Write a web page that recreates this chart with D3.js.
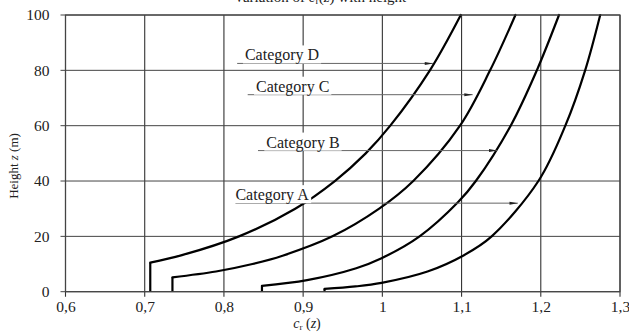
<!DOCTYPE html>
<html>
<head>
<meta charset="utf-8">
<script src="https://cdn.jsdelivr.net/npm/d3@7"></script>
<style>
  html, body { margin: 0; padding: 0; background: #fff; }
  svg { display: block; }
  svg text { font-family: "Liberation Serif", "Times New Roman", "DejaVu Serif", serif; }
</style>
</head>
<body>
<div id="chart"></div>
<script>
// roughness factor c_r(z) against height, four terrain categories

const categories = ["Category A", "Category B", "Category C", "Category D"];

// first two points of each series are the vertical stub below z_min
const catA_c = [0.927, 0.927, 0.966, 0.999, 1.057, 1.103, 1.138, 1.197, 1.231, 1.256, 1.275];
const catA_z = [0, 1, 1.9, 3.2, 7.3, 13.2, 20, 40, 60, 80, 100];

const catB_c = [0.848, 0.848, 0.905, 0.967, 0.999, 1.047, 1.096, 1.118, 1.162, 1.195, 1.223];
const catB_z = [0, 2.1, 4.2, 8.5, 12.1, 20, 32.5, 40, 60, 80, 100];

const catC_c = [0.735, 0.735, 0.79, 0.836, 0.874, 0.937, 0.996, 1.039, 1.098, 1.136, 1.168];
const catC_z = [0, 5.2, 7.3, 10, 13, 20, 30, 40, 60, 80, 100];

const catD_c = [0.707, 0.707, 0.747, 0.819, 0.890, 0.940, 0.979, 1.010, 1.060, 1.099];
const catD_z = [0, 10.5, 13.2, 20, 30, 40, 50, 60, 80, 100];

const xTicks = [0.6, 0.7, 0.8, 0.9, 1.0, 1.1, 1.2, 1.3];
const yTicks = [0, 20, 40, 60, 80, 100];

const W = 629, H = 334;
const margin = { top: 15, right: 9, bottom: 42.3, left: 65.5 };
const width  = W - margin.left - margin.right;
const height = H - margin.top - margin.bottom;

const svg = d3.select("#chart").append("svg")
    .attr("width", W)
    .attr("height", H);

// title, mostly cropped off at the top of the picture
svg.append("text")
    .attr("x", 320).attr("y", 1.5)
    .attr("text-anchor", "middle")
    .style("font-size", "15px")
    .style("fill", "#222")
    .html('Variation of <tspan font-style="italic">c</tspan><tspan font-size="10px" dy="2">r</tspan><tspan dy="-2">(</tspan><tspan font-style="italic">z</tspan>) with height');

const g = svg.append("g")
    .attr("transform", `translate(${margin.left},${margin.top})`);

const x = d3.scaleLinear().domain([0.6, 1.3]).range([0, width]);
const y = d3.scaleLinear().domain([0, 100]).range([height, 0]);

// ── Grid ───────────────────────────────────────────────────────────────
g.append("g").selectAll("line")
    .data(xTicks)
    .join("line")
    .attr("x1", d => x(d)).attr("x2", d => x(d))
    .attr("y1", 0).attr("y2", height + 5)
    .style("stroke", "#333")
    .style("stroke-width", 1.1);

g.append("g").selectAll("line")
    .data(yTicks)
    .join("line")
    .attr("x1", -5).attr("x2", width)
    .attr("y1", d => y(d)).attr("y2", d => y(d))
    .style("stroke", "#444")
    .style("stroke-width", 1);

// ── Axes (labels only, grid draws the lines) ─────────────────────────
const fmt = d => d3.format("~g")(d).replace(".", ",");

const xAxis = g.append("g")
    .attr("transform", `translate(0,${height})`)
    .call(d3.axisBottom(x).tickValues(xTicks).tickFormat(fmt).tickSize(5).tickPadding(4));
xAxis.attr("font-family", null);
xAxis.select(".domain").remove();
xAxis.selectAll("line").remove();
xAxis.selectAll("text")
    .style("font-size", "15.5px")
    .style("fill", "#222");

const yAxis = g.append("g")
    .call(d3.axisLeft(y).tickValues(yTicks).tickSize(5).tickPadding(11));
yAxis.attr("font-family", null);
yAxis.select(".domain").remove();
yAxis.selectAll("line").remove();
yAxis.selectAll("text")
    .style("font-size", "15.5px")
    .style("fill", "#222");

// axis titles
svg.append("text")
    .attr("transform", `translate(18,${margin.top + 151}) rotate(-90)`)
    .attr("text-anchor", "middle")
    .style("font-size", "13px")
    .style("fill", "#222")
    .html('Height <tspan font-style="italic">z</tspan> (m)');

svg.append("text")
    .attr("x", 307).attr("y", 328)
    .attr("text-anchor", "middle")
    .style("font-size", "14px")
    .style("fill", "#222")
    .html('<tspan font-style="italic">c</tspan><tspan font-size="9px" dy="2">r</tspan><tspan dy="-2"> (</tspan><tspan font-style="italic">z</tspan>)');

// ── Curves ─────────────────────────────────────────────────────────────
const series = [
    { name: categories[0], c: catA_c, z: catA_z },
    { name: categories[1], c: catB_c, z: catB_z },
    { name: categories[2], c: catC_c, z: catC_z },
    { name: categories[3], c: catD_c, z: catD_z }
];

const stub  = d3.line().x(d => x(d[0])).y(d => y(d[1]));
const curve = d3.line().x(d => x(d[0])).y(d => y(d[1])).curve(d3.curveCatmullRom.alpha(0.5));

series.forEach(s => {
    const pts = s.c.map((c, i) => [c, s.z[i]]);
    g.append("path")
        .attr("d", stub(pts.slice(0, 2)))
        .style("fill", "none")
        .style("stroke", "#000")
        .style("stroke-width", 2.2);
    g.append("path")
        .attr("d", curve(pts.slice(1)))
        .style("fill", "none")
        .style("stroke", "#000")
        .style("stroke-width", 2.2)
        .style("stroke-linecap", "round");
});

// frame
g.append("rect")
    .attr("width", width).attr("height", height)
    .style("fill", "none")
    .style("stroke", "#444")
    .style("stroke-width", 1.2);

// ── Labels with leader arrows (data coordinates) ───────────────────────
const notes = [
    { name: categories[3], z: 82.5, c0: 0.8167, c1: 1.064, tx: 0.8265 },
    { name: categories[2], z: 71.2, c0: 0.830,  c1: 1.114, tx: 0.8405 },
    { name: categories[1], z: 51.0, c0: 0.843,  c1: 1.145, tx: 0.8535 },
    { name: categories[0], z: 32.0, c0: 0.8145, c1: 1.171, tx: 0.8145 }
];

const defs = svg.append("defs");
defs.append("marker")
    .attr("id", "arrow")
    .attr("viewBox", "0 0 10 6")
    .attr("refX", 10).attr("refY", 3)
    .attr("markerWidth", 9).attr("markerHeight", 5)
    .attr("markerUnits", "userSpaceOnUse")
    .attr("orient", "auto")
    .append("path")
    .attr("d", "M0,1.2 L10,3 L0,4.8 Z")
    .style("fill", "#222");

notes.forEach(n => {
    g.append("line")
        .attr("x1", x(n.c0)).attr("x2", x(n.c1))
        .attr("y1", y(n.z)).attr("y2", y(n.z))
        .style("stroke", "#666")
        .style("stroke-width", 1)
        .attr("marker-end", "url(#arrow)");

    const t = g.append("text")
        .attr("x", x(n.tx)).attr("y", y(n.z) - 3)
        .style("font-size", "16px")
        .style("fill", "#222")
        .text(n.name);
    const bb = t.node().getBBox();
    g.insert("rect", () => t.node())
        .attr("x", bb.x - 2).attr("y", bb.y - 1)
        .attr("width", bb.width + 4).attr("height", bb.height)
        .style("fill", "#fff");
});
</script>
</body>
</html>
